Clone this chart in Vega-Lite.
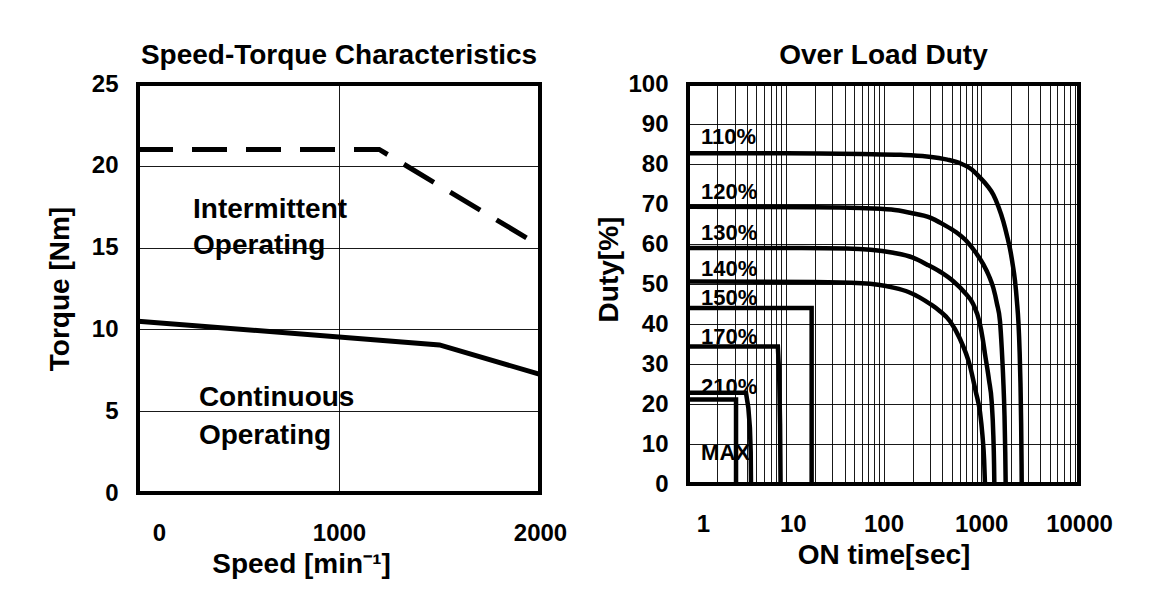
{
  "$schema": "https://vega.github.io/schema/vega-lite/v6.json",
  "background": "white",
  "padding": {"left": 44, "top": 40, "right": 10, "bottom": 10},
  "spacing": 24,
  "datasets": {
    "torque": [
      {"mode": "Intermittent", "speed": 0, "torque": 21.0},
      {"mode": "Intermittent", "speed": 1200, "torque": 21.0},
      {"mode": "Intermittent", "speed": 2000, "torque": 15.1},
      {"mode": "Continuous", "speed": 0, "torque": 10.5},
      {"mode": "Continuous", "speed": 1500, "torque": 9.05},
      {"mode": "Continuous", "speed": 2000, "torque": 7.25}
    ],
    "torqueNotes": [
      {"speed": 274, "torque": 17.3, "note": "Intermittent"},
      {"speed": 274, "torque": 15.1, "note": "Operating"},
      {"speed": 303, "torque": 5.8, "note": "Continuous"},
      {"speed": 303, "torque": 3.5, "note": "Operating"}
    ],
    "duty": [
      {"load": "110%", "time": 1, "duty": 82.7},
      {"load": "110%", "time": 10, "duty": 82.7},
      {"load": "110%", "time": 60, "duty": 82.5},
      {"load": "110%", "time": 150, "duty": 82.3},
      {"load": "110%", "time": 277, "duty": 81.9},
      {"load": "110%", "time": 450, "duty": 81.1},
      {"load": "110%", "time": 606, "duty": 80.2},
      {"load": "110%", "time": 800, "duty": 78.6},
      {"load": "110%", "time": 971, "duty": 76.6},
      {"load": "110%", "time": 1150, "duty": 74.6},
      {"load": "110%", "time": 1330, "duty": 72.3},
      {"load": "110%", "time": 1500, "duty": 69.3},
      {"load": "110%", "time": 1684, "duty": 65.6},
      {"load": "110%", "time": 1850, "duty": 61.7},
      {"load": "110%", "time": 1968, "duty": 58.8},
      {"load": "110%", "time": 2100, "duty": 54.8},
      {"load": "110%", "time": 2214, "duty": 50.8},
      {"load": "110%", "time": 2320, "duty": 45.5},
      {"load": "110%", "time": 2400, "duty": 40.5},
      {"load": "110%", "time": 2470, "duty": 33},
      {"load": "110%", "time": 2520, "duty": 25},
      {"load": "110%", "time": 2560, "duty": 15},
      {"load": "110%", "time": 2585, "duty": 5},
      {"load": "110%", "time": 2594, "duty": 0},
      {"load": "120%", "time": 1, "duty": 69.3},
      {"load": "120%", "time": 20, "duty": 69.2},
      {"load": "120%", "time": 57, "duty": 69.0},
      {"load": "120%", "time": 120, "duty": 68.6},
      {"load": "120%", "time": 187, "duty": 67.8},
      {"load": "120%", "time": 300, "duty": 66.6},
      {"load": "120%", "time": 409, "duty": 64.9},
      {"load": "120%", "time": 550, "duty": 63.0},
      {"load": "120%", "time": 710, "duty": 60.7},
      {"load": "120%", "time": 870, "duty": 58.0},
      {"load": "120%", "time": 1050, "duty": 54.9},
      {"load": "120%", "time": 1200, "duty": 52.0},
      {"load": "120%", "time": 1330, "duty": 49.0},
      {"load": "120%", "time": 1450, "duty": 45.0},
      {"load": "120%", "time": 1555, "duty": 40.7},
      {"load": "120%", "time": 1620, "duty": 34},
      {"load": "120%", "time": 1680, "duty": 26},
      {"load": "120%", "time": 1730, "duty": 17},
      {"load": "120%", "time": 1760, "duty": 8},
      {"load": "120%", "time": 1778, "duty": 0},
      {"load": "130%", "time": 1, "duty": 59.0},
      {"load": "130%", "time": 10, "duty": 59.0},
      {"load": "130%", "time": 42, "duty": 58.9},
      {"load": "130%", "time": 126, "duty": 57.8},
      {"load": "130%", "time": 200, "duty": 56.6},
      {"load": "130%", "time": 277, "duty": 54.9},
      {"load": "130%", "time": 400, "duty": 52.7},
      {"load": "130%", "time": 518, "duty": 50.7},
      {"load": "130%", "time": 680, "duty": 47.8},
      {"load": "130%", "time": 830, "duty": 44.9},
      {"load": "130%", "time": 960, "duty": 40.5},
      {"load": "130%", "time": 1040, "duty": 36},
      {"load": "130%", "time": 1092, "duty": 32.5},
      {"load": "130%", "time": 1200, "duty": 26},
      {"load": "130%", "time": 1279, "duty": 20.5},
      {"load": "130%", "time": 1330, "duty": 12},
      {"load": "130%", "time": 1352, "duty": 5},
      {"load": "130%", "time": 1361, "duty": 0},
      {"load": "140%", "time": 1, "duty": 50.6},
      {"load": "140%", "time": 20, "duty": 50.5},
      {"load": "140%", "time": 60, "duty": 50.2},
      {"load": "140%", "time": 126, "duty": 49.1},
      {"load": "140%", "time": 180, "duty": 48.0},
      {"load": "140%", "time": 236, "duty": 46.6},
      {"load": "140%", "time": 300, "duty": 45.0},
      {"load": "140%", "time": 378, "duty": 43.2},
      {"load": "140%", "time": 479, "duty": 40.7},
      {"load": "140%", "time": 600, "duty": 36.5},
      {"load": "140%", "time": 767, "duty": 29.5},
      {"load": "140%", "time": 880, "duty": 23},
      {"load": "140%", "time": 971, "duty": 18},
      {"load": "140%", "time": 1030, "duty": 12},
      {"load": "140%", "time": 1070, "duty": 6},
      {"load": "140%", "time": 1092, "duty": 0},
      {"load": "150%", "time": 1, "duty": 44.0},
      {"load": "150%", "time": 18.4, "duty": 44.0},
      {"load": "150%", "time": 18.4, "duty": 0},
      {"load": "170%", "time": 1, "duty": 34.4},
      {"load": "170%", "time": 8.3, "duty": 34.4},
      {"load": "170%", "time": 8.55, "duty": 28},
      {"load": "170%", "time": 8.75, "duty": 15},
      {"load": "170%", "time": 8.85, "duty": 0},
      {"load": "210%", "time": 1, "duty": 22.8},
      {"load": "210%", "time": 3.92, "duty": 22.8},
      {"load": "210%", "time": 4.14, "duty": 19.1},
      {"load": "210%", "time": 4.3, "duty": 14},
      {"load": "210%", "time": 4.38, "duty": 8},
      {"load": "210%", "time": 4.41, "duty": 0},
      {"load": "MAX", "time": 1, "duty": 21.1},
      {"load": "MAX", "time": 3.1, "duty": 21.1},
      {"load": "MAX", "time": 3.1, "duty": 0}
    ],
    "dutyLabels": [
      {"load": "110%", "time": 1.36, "duty": 86.8},
      {"load": "120%", "time": 1.36, "duty": 73.1},
      {"load": "130%", "time": 1.36, "duty": 62.8},
      {"load": "140%", "time": 1.36, "duty": 53.7},
      {"load": "150%", "time": 1.36, "duty": 46.6},
      {"load": "170%", "time": 1.36, "duty": 36.8},
      {"load": "210%", "time": 1.36, "duty": 24.25},
      {"load": "MAX", "time": 1.36, "duty": 7.7}
    ]
  },
  "hconcat": [
    {
      "title": "Speed-Torque Characteristics",
      "width": 402,
      "height": 409,
      "layer": [
        {
          "data": {"name": "torque"},
          "transform": [{"filter": "datum.mode === 'Intermittent'"}],
          "mark": {"type": "line", "color": "black", "strokeWidth": 5, "strokeDash": [35, 19], "strokeCap": "butt"},
          "encoding": {
            "x": {
              "field": "speed", "type": "quantitative",
              "scale": {"domain": [0, 2000], "nice": false, "zero": false},
              "axis": {
                "values": [0, 1000, 2000],
                "format": "d",
                "title": "Speed [min⁻¹]",
                "titleX": 163,
                "titlePadding": 5,
                "labelOffset": {"condition": {"test": "datum.value === 0", "value": 21}, "value": 0}
              }
            },
            "y": {
              "field": "torque", "type": "quantitative",
              "scale": {"domain": [0, 25], "nice": false},
              "axis": {"values": [0, 5, 10, 15, 20, 25], "title": "Torque [Nm]", "titlePadding": 17}
            }
          }
        },
        {
          "data": {"name": "torque"},
          "transform": [{"filter": "datum.mode === 'Continuous'"}],
          "mark": {"type": "line", "color": "black", "strokeWidth": 5},
          "encoding": {
            "x": {"field": "speed", "type": "quantitative"},
            "y": {"field": "torque", "type": "quantitative"}
          }
        },
        {
          "data": {"name": "torqueNotes"},
          "mark": {"type": "text", "align": "left", "baseline": "middle", "fontSize": 28, "fontWeight": "bold", "color": "black", "font": "Liberation Sans"},
          "encoding": {
            "x": {"field": "speed", "type": "quantitative"},
            "y": {"field": "torque", "type": "quantitative"},
            "text": {"field": "note"}
          }
        }
      ]
    },
    {
      "title": "Over Load Duty",
      "width": 391,
      "height": 400,
      "encoding": {
        "y": {
          "field": "duty", "type": "quantitative",
          "scale": {"domain": [0, 100], "nice": false},
          "axis": {
            "tickCount": 10,
            "labelOverlap": false,
            "labelSeparation": 0,
            "title": "Duty[%]",
            "titlePadding": 4,
            "titleY": 185
          }
        }
      },
      "layer": [
        {
          "data": {"name": "duty"},
          "transform": [{"filter": "indexof(['110%','120%','130%','140%'], datum.load) >= 0"}],
          "mark": {"type": "line", "interpolate": "monotone", "color": "black", "strokeWidth": 4.5},
          "encoding": {
            "x": {
              "field": "time", "type": "quantitative",
              "scale": {"type": "log", "domain": [1, 10000], "nice": false},
              "axis": {
                "values": [1, 2, 3, 4, 5, 6, 7, 8, 9, 10, 20, 30, 40, 50, 60, 70, 80, 90, 100, 200, 300, 400, 500, 600, 700, 800, 900, 1000, 2000, 3000, 4000, 5000, 6000, 7000, 8000, 9000, 10000],
                "labelExpr": "indexof([1, 10, 100, 1000, 10000], datum.value) >= 0 ? format(datum.value, 'd') : ''",
                "title": "ON time[sec]",
                "titlePadding": 5,
                "labelOffset": {"condition": [{"test": "datum.value === 1", "value": 15}, {"test": "datum.value === 10", "value": 7}], "value": 0}
              }
            },
            "detail": {"field": "load"}
          }
        },
        {
          "data": {"name": "duty"},
          "transform": [{"filter": "indexof(['110%','120%','130%','140%'], datum.load) < 0"}],
          "mark": {"type": "line", "color": "black", "strokeWidth": 4.5},
          "encoding": {
            "x": {"field": "time", "type": "quantitative"},
            "detail": {"field": "load"}
          }
        },
        {
          "data": {"name": "dutyLabels"},
          "mark": {"type": "text", "align": "left", "baseline": "middle", "fontSize": 22, "fontWeight": "bold", "color": "black", "font": "Liberation Sans"},
          "encoding": {
            "x": {"field": "time", "type": "quantitative"},
            "text": {"field": "load"}
          }
        }
      ]
    }
  ],
  "config": {
    "font": "Liberation Sans",
    "view": {"stroke": "black", "strokeWidth": 4},
    "title": {"fontSize": 28, "fontWeight": "bold", "color": "black", "font": "Liberation Sans", "frame": "group", "offset": 2},
    "axis": {
      "domain": false,
      "ticks": false,
      "grid": true,
      "gridColor": "black",
      "gridWidth": 1,
      "gridOpacity": 0.9,
      "labelFont": "Liberation Sans",
      "labelFontSize": 24,
      "labelFontWeight": "bold",
      "labelColor": "black",
      "labelPadding": 20,
      "labelFlush": false,
      "labelOverlap": false,
      "titleFont": "Liberation Sans",
      "titleFontSize": 28,
      "titleFontWeight": "bold",
      "titleColor": "black"
    },
    "axisX": {"labelPadding": 28}
  }
}
